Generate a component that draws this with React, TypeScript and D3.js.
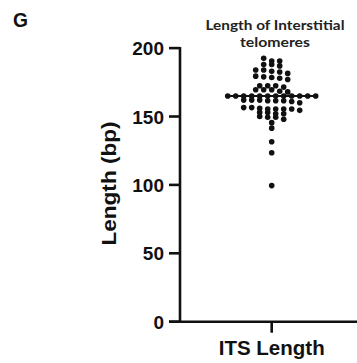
import React from 'react';
import * as d3 from 'd3';

const panelLabel = 'G';
const titleLines = ['Length of Interstitial', 'telomeres'];
const yAxisTitle = 'Length (bp)';
const categories = ['ITS Length'];
const yTicks = [0, 50, 100, 150, 200];
const itsLengths = [
  192.5,
  190.5, 190.5,
  188, 188, 187,
  184, 184, 183, 182.5, 181.5,
  179.5, 179, 178.5, 178, 177,
  172.5, 172.5, 172.5, 171.5,
  169.5, 169.5, 169.5, 168.5, 168,
  165, 165, 165, 165, 165, 165, 165, 165, 165, 165, 165, 165,
  162, 162, 162, 161.5, 161.5, 161.5, 161, 160,
  156.5, 156.5, 156, 155.5, 155.5, 155.5, 155.5, 154.5,
  153, 153, 152, 152,
  150, 149.5, 149.5, 148,
  145.5,
  141.5,
  131.5,
  123.5,
  99.5,
];

export default function App() {
  const W = 357;
  const H = 363;
  const y = d3.scaleLinear().domain([0, 200]).range([321.7, 48.1]);
  const x = d3.scalePoint<string>().domain(categories).range([180, 363.4]).padding(0.5);
  const cx = x(categories[0]) as number;

  const sorted = [...itsLengths].sort((a, b) => b - a);
  const rows: number[][] = [];
  for (const v of sorted) {
    const last = rows[rows.length - 1];
    if (last && last[0] - v <= 2.8) last.push(v);
    else rows.push([v]);
  }
  const spacing = 8;
  const dots = rows.flatMap((row) =>
    row.map((v, i) => ({ v, dx: (i - (row.length - 1) / 2) * spacing }))
  );
  const med = d3.median(itsLengths) as number;

  const axisFont = "'Liberation Sans', Arial, sans-serif";
  const titleFont = "Lato, 'Open Sans', sans-serif";
  const x0 = 180;
  const yBase = y(0);

  return (
    <svg width={W} height={H} style={{ position: 'absolute', left: 0, top: 0, background: '#fff' }}>
      <rect width={W} height={H} fill="#fff" />
      <text x={13} y={27} fontFamily={axisFont} fontWeight={700} fontSize={20} textLength={15} lengthAdjust="spacingAndGlyphs" fill="#111">
        {panelLabel}
      </text>
      {titleLines.map((t, i) => (
        <text key={t} x={275} y={30 + i * 17} textAnchor="middle" fontFamily={titleFont} fontWeight={700} fontSize={14}
          textLength={i === 0 ? 139 : 70} lengthAdjust="spacingAndGlyphs" fill="#222">
          {t}
        </text>
      ))}
      {/* y axis */}
      <line x1={x0} x2={x0} y1={y(200) - 1.2} y2={yBase + 1.2} stroke="#111" strokeWidth={2.6} />
      {yTicks.map((t) => (
        <g key={t}>
          <line x1={169} x2={x0} y1={y(t)} y2={y(t)} stroke="#111" strokeWidth={2.6} />
          <text x={164} y={y(t) + 7} textAnchor="end" fontFamily={axisFont} fontWeight={700} fontSize={19} fill="#111">
            {t}
          </text>
        </g>
      ))}
      {/* x axis */}
      <line x1={169} x2={W} y1={yBase} y2={yBase} stroke="#111" strokeWidth={2.6} />
      <line x1={cx} x2={cx} y1={yBase} y2={yBase + 11} stroke="#111" strokeWidth={2.6} />
      <text x={cx} y={355} textAnchor="middle" fontFamily={axisFont} fontWeight={700} fontSize={19.5}
        textLength={106} lengthAdjust="spacingAndGlyphs" fill="#111">
        {categories[0]}
      </text>
      <text transform={`translate(116, ${183.5}) rotate(-90)`} textAnchor="middle" fontFamily={axisFont} fontWeight={700}
        fontSize={19.5} textLength={124} lengthAdjust="spacingAndGlyphs" fill="#111">
        {yAxisTitle}
      </text>
      {/* dots */}
      {dots.map((d, i) => (
        <circle key={i} cx={cx + d.dx} cy={y(d.v)} r={2.8} fill="#111" />
      ))}
      <line x1={cx - 45} x2={cx + 46} y1={y(med)} y2={y(med)} stroke="#111" strokeWidth={2.2} />
    </svg>
  );
}
